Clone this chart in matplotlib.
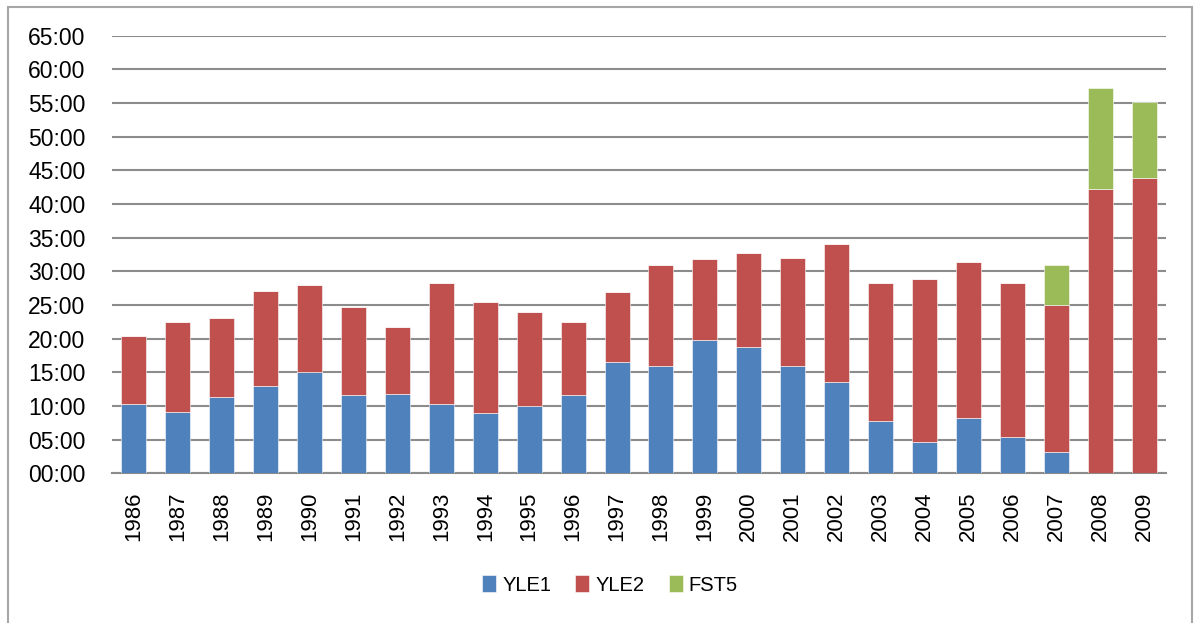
import matplotlib
matplotlib.use("Agg")
import matplotlib.pyplot as plt
from matplotlib.patches import Rectangle
from matplotlib.ticker import FuncFormatter, MultipleLocator
import numpy as np

plt.rcParams.update({"font.family": ["Liberation Sans", "DejaVu Sans"]})

BLUE = "#4F81BD"; RED = "#C0504D"; GREEN = "#9BBB59"; GRID = "#8C8C8C"

years = [str(y) for y in range(1986, 2010)]
# values in minutes (axis labels are mm:00)
yle1 = [10.3, 9.1, 11.4, 12.9, 15.1, 11.6, 11.8, 10.35, 8.9, 10.0, 11.7, 16.6,
        15.9, 19.85, 18.7, 15.9, 13.5, 7.8, 4.7, 8.2, 5.45, 3.1, 0.0, 0.0]
yle2 = [10.05, 13.4, 11.7, 14.2, 12.9, 13.05, 10.0, 17.95, 16.6, 13.9, 10.7, 10.4,
        15.1, 12.05, 14.0, 16.1, 20.5, 20.4, 24.2, 23.2, 22.85, 21.9, 42.2, 43.9]
fst5 = [0] * 21 + [5.9, 15.0, 11.3]

fig = plt.figure(figsize=(11.94, 6.23), dpi=100)
ax = fig.add_axes([112 / 1194, 1 - 473.3 / 623, (1166 - 112) / 1194, (473.3 - 35.7) / 623])

x = np.arange(len(years))
w = 0.57
ek = dict(width=w, edgecolor="white", linewidth=0.4, zorder=3)
ax.bar(x, yle1, color=BLUE, label="YLE1", **ek)
ax.bar(x, yle2, bottom=yle1, color=RED, label="YLE2", **ek)
ax.bar(x, fst5, bottom=np.add(yle1, yle2), color=GREEN, label="FST5", **ek)

ax.set_xlim(-0.5, len(years) - 0.5)
ax.set_ylim(0, 65)
ax.yaxis.set_major_locator(MultipleLocator(5))
ax.yaxis.set_major_formatter(FuncFormatter(lambda v, p: f"{int(round(v)):02d}:00"))
ax.grid(axis="y", color=GRID, lw=1.5, zorder=0)
ax.set_axisbelow(True)

ax.set_xticks(x)
ax.set_xticklabels(years, rotation=90, va="top")
ax.tick_params(axis="x", length=0, pad=13, labelsize=16)
ax.tick_params(axis="y", length=0, pad=19, labelsize=16.5)

for s in ["left", "right", "top"]:
    ax.spines[s].set_visible(False)
ax.spines["bottom"].set_color(GRID)
ax.spines["bottom"].set_linewidth(1.5)

fig.legend(loc="center", bbox_to_anchor=(610 / 1194, 1 - 585 / 623), ncol=3,
           frameon=False, fontsize=14.5, handlelength=0.7, handleheight=0.9,
           handletextpad=0.3, columnspacing=1.2)

# outer chart border
fig.patches.append(Rectangle((8 / 1194, -0.05), (1192 - 8) / 1194, 1.05 - 7 / 623,
                             transform=fig.transFigure, fill=False,
                             edgecolor="#A6A6A6", lw=1.5))

fig.savefig("out.png", dpi=100)
